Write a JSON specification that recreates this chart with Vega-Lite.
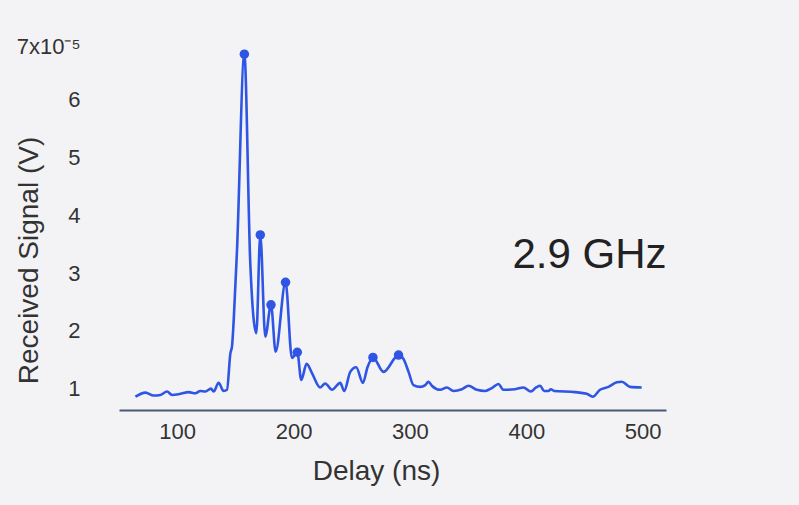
{
  "$schema": "https://vega.github.io/schema/vega-lite/v6.json",
  "width": 547,
  "height": 368,
  "autosize": {"type": "none"},
  "padding": {"left": 119, "top": 42, "right": 133, "bottom": 95},
  "background": "#f3f3f6",
  "config": {"view": {"stroke": null}, "font": "Liberation Sans"},
  "data": {
    "values": [
      {"delay_ns": 64.1, "signal": 0.86, "peak": false},
      {"delay_ns": 72.7, "signal": 0.93, "peak": false},
      {"delay_ns": 79.8, "signal": 0.88, "peak": false},
      {"delay_ns": 85.6, "signal": 0.89, "peak": false},
      {"delay_ns": 91.3, "signal": 0.95, "peak": false},
      {"delay_ns": 95.6, "signal": 0.89, "peak": false},
      {"delay_ns": 102.7, "signal": 0.91, "peak": false},
      {"delay_ns": 109.9, "signal": 0.94, "peak": false},
      {"delay_ns": 115.6, "signal": 0.92, "peak": false},
      {"delay_ns": 119.9, "signal": 0.96, "peak": false},
      {"delay_ns": 124.2, "signal": 0.95, "peak": false},
      {"delay_ns": 129.1, "signal": 1.0, "peak": false},
      {"delay_ns": 131.3, "signal": 0.95, "peak": false},
      {"delay_ns": 135.6, "signal": 1.1, "peak": false},
      {"delay_ns": 139.9, "signal": 0.96, "peak": false},
      {"delay_ns": 142.8, "signal": 0.98, "peak": false},
      {"delay_ns": 145.7, "signal": 1.61, "peak": false},
      {"delay_ns": 147.1, "signal": 1.73, "peak": false},
      {"delay_ns": 148.5, "signal": 2.16, "peak": false},
      {"delay_ns": 151.4, "signal": 3.4, "peak": false},
      {"delay_ns": 157.7, "signal": 6.79, "peak": true},
      {"delay_ns": 162.8, "signal": 3.17, "peak": false},
      {"delay_ns": 168.0, "signal": 1.96, "peak": false},
      {"delay_ns": 171.4, "signal": 3.66, "peak": true},
      {"delay_ns": 175.7, "signal": 1.9, "peak": false},
      {"delay_ns": 180.6, "signal": 2.45, "peak": true},
      {"delay_ns": 184.6, "signal": 1.64, "peak": false},
      {"delay_ns": 193.1, "signal": 2.84, "peak": true},
      {"delay_ns": 198.6, "signal": 1.53, "peak": false},
      {"delay_ns": 203.2, "signal": 1.63, "peak": true},
      {"delay_ns": 206.6, "signal": 1.15, "peak": false},
      {"delay_ns": 211.2, "signal": 1.43, "peak": false},
      {"delay_ns": 215.8, "signal": 1.27, "peak": false},
      {"delay_ns": 222.9, "signal": 1.02, "peak": false},
      {"delay_ns": 227.2, "signal": 1.09, "peak": false},
      {"delay_ns": 233.0, "signal": 0.98, "peak": false},
      {"delay_ns": 240.1, "signal": 1.1, "peak": false},
      {"delay_ns": 243.5, "signal": 0.96, "peak": false},
      {"delay_ns": 248.7, "signal": 1.29, "peak": false},
      {"delay_ns": 253.8, "signal": 1.37, "peak": false},
      {"delay_ns": 259.6, "signal": 1.1, "peak": false},
      {"delay_ns": 263.5, "signal": 1.37, "peak": false},
      {"delay_ns": 268.2, "signal": 1.54, "peak": true},
      {"delay_ns": 277.3, "signal": 1.29, "peak": false},
      {"delay_ns": 290.2, "signal": 1.58, "peak": true},
      {"delay_ns": 294.5, "signal": 1.51, "peak": false},
      {"delay_ns": 298.8, "signal": 1.29, "peak": false},
      {"delay_ns": 303.0, "signal": 1.06, "peak": false},
      {"delay_ns": 308.8, "signal": 1.03, "peak": false},
      {"delay_ns": 313.1, "signal": 1.06, "peak": false},
      {"delay_ns": 315.9, "signal": 1.12, "peak": false},
      {"delay_ns": 318.8, "signal": 1.05, "peak": false},
      {"delay_ns": 326.0, "signal": 0.98, "peak": false},
      {"delay_ns": 331.7, "signal": 1.02, "peak": false},
      {"delay_ns": 337.4, "signal": 0.96, "peak": false},
      {"delay_ns": 344.6, "signal": 0.99, "peak": false},
      {"delay_ns": 350.3, "signal": 1.05, "peak": false},
      {"delay_ns": 357.5, "signal": 0.98, "peak": false},
      {"delay_ns": 364.6, "signal": 0.96, "peak": false},
      {"delay_ns": 370.4, "signal": 1.01, "peak": false},
      {"delay_ns": 376.0, "signal": 1.08, "peak": false},
      {"delay_ns": 380.3, "signal": 0.98, "peak": false},
      {"delay_ns": 390.4, "signal": 0.99, "peak": false},
      {"delay_ns": 397.5, "signal": 1.02, "peak": false},
      {"delay_ns": 403.8, "signal": 0.95, "peak": false},
      {"delay_ns": 408.4, "signal": 1.02, "peak": false},
      {"delay_ns": 411.8, "signal": 1.05, "peak": false},
      {"delay_ns": 415.3, "signal": 0.96, "peak": false},
      {"delay_ns": 419.0, "signal": 0.96, "peak": false},
      {"delay_ns": 421.0, "signal": 0.99, "peak": false},
      {"delay_ns": 423.8, "signal": 0.96, "peak": false},
      {"delay_ns": 441.9, "signal": 0.94, "peak": false},
      {"delay_ns": 451.9, "signal": 0.91, "peak": false},
      {"delay_ns": 457.1, "signal": 0.86, "peak": false},
      {"delay_ns": 463.3, "signal": 0.98, "peak": false},
      {"delay_ns": 470.5, "signal": 1.03, "peak": false},
      {"delay_ns": 477.7, "signal": 1.11, "peak": false},
      {"delay_ns": 482.0, "signal": 1.12, "peak": false},
      {"delay_ns": 489.1, "signal": 1.03, "peak": false},
      {"delay_ns": 499.1, "signal": 1.02, "peak": false}
    ]
  },
  "layer": [
    {
      "mark": {"type": "line", "color": "#2f55e4", "strokeWidth": 2.6, "interpolate": "monotone"},
      "encoding": {
        "x": {
          "field": "delay_ns", "type": "quantitative",
          "scale": {"domain": [50, 520], "nice": false, "zero": false},
          "axis": {
            "title": "Delay (ns)", "values": [100, 200, 300, 400, 500], "format": "d",
            "ticks": false, "grid": false, "labelFlush": false,
            "domainColor": "#4a5a75", "domainWidth": 2,
            "labelFontSize": 22, "labelColor": "#333333", "labelBaseline": "alphabetic", "labelPadding": 28,
            "titleFontSize": 28, "titleFontWeight": "normal", "titleColor": "#333333",
            "titleX": 257, "titleY": 69, "titleBaseline": "alphabetic", "titleAlign": "center"
          }
        },
        "y": {
          "field": "signal", "type": "quantitative",
          "scale": {"domain": [0.63, 7], "nice": false, "zero": false},
          "axis": {
            "title": "Received Signal (V)", "values": [1, 2, 3, 4, 5, 6, 7], "format": "d",
            "ticks": false, "domain": false, "grid": false,
            "labelFontSize": 22, "labelColor": "#333333", "labelPadding": 39,
            "labelExpr": "datum.value == 7 ? '7x10⁻⁵' : datum.label",
            "labelOffset": {"condition": {"test": "datum.value == 7", "value": 4}, "value": 0},
            "titleFontSize": 28, "titleFontWeight": "normal", "titleColor": "#333333",
            "titleX": -82, "titleY": 218, "titleAngle": -90, "titleBaseline": "alphabetic", "titleAlign": "center"
          }
        }
      }
    },
    {
      "transform": [{"filter": "datum.peak"}],
      "mark": {"type": "point", "filled": true, "size": 90, "color": "#2f55e4", "opacity": 1},
      "encoding": {
        "x": {"field": "delay_ns", "type": "quantitative"},
        "y": {"field": "signal", "type": "quantitative"}
      }
    },
    {
      "data": {"values": [{"label": "2.9 GHz"}]},
      "mark": {"type": "text", "fontSize": 42, "color": "#222222", "align": "center", "baseline": "alphabetic"},
      "encoding": {
        "text": {"field": "label", "type": "nominal"},
        "x": {"datum": 454.3, "type": "quantitative"},
        "y": {"datum": 3.09, "type": "quantitative"}
      }
    }
  ]
}
